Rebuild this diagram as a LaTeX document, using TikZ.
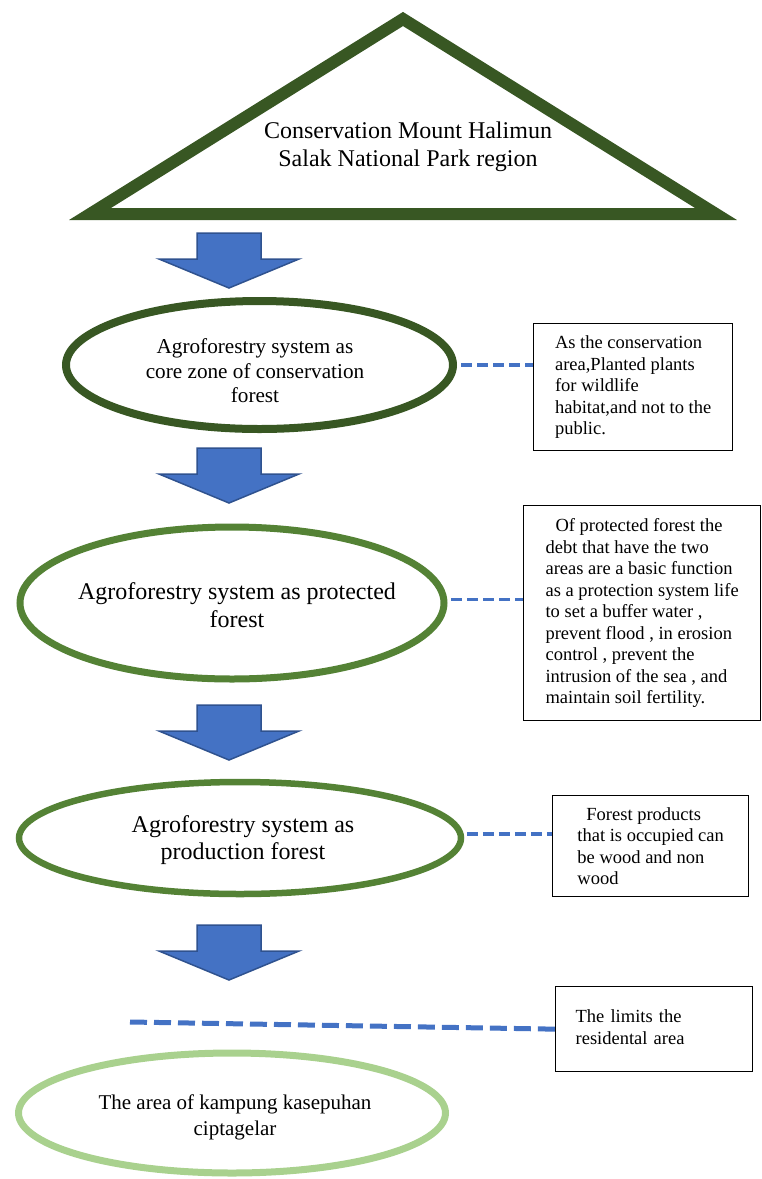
\documentclass[tikz,border=0pt]{standalone}
\usepackage{fontspec}
\setmainfont{Liberation Serif}
\usetikzlibrary{shapes.geometric}
\definecolor{forestdark}{HTML}{385723}
\definecolor{forestmid}{HTML}{548235}
\definecolor{forestlight}{HTML}{A9D18E}
\definecolor{flowblue}{HTML}{4472C4}
\definecolor{flowedge}{HTML}{2F528F}

\begin{document}
\begin{tikzpicture}[x=1pt, y=-1pt,
    zone/.style={ellipse, draw=#1, inner sep=0pt},
    zonetext/.style={align=center, font=\fontsize{24}{28}\selectfont},
    note/.style={draw, line width=1.3pt, align=left, inner xsep=20pt, inner ysep=0pt,
      anchor=north west, minimum width=#1, font=\fontsize{18.5}{21.5}\selectfont},
    link/.style={draw=flowblue, line width=3.5pt, dash pattern=on 11pt off 5pt},
    blockarrow/.style={fill=flowblue, draw=flowedge, line width=1.5pt, line join=miter}]

  \useasboundingbox (0,0) rectangle (762,1179);

  % park region
  \draw[forestdark, line width=12pt, line join=miter] (403,19) -- (716,214) -- (90,214) -- cycle;
  \node[zonetext] (park) at (408,147) {Conservation Mount Halimun\\Salak National Park region};

  % flow arrows
  \foreach \ytop in {233,448,705,925}
    \draw[blockarrow] (197,\ytop) -- ++(64,0) -- ++(0,26) -- ++(38,0) -- ++(-70,29) -- ++(-70,-29) -- ++(38,0) -- cycle;

  % zones
  \node[zone=forestdark, line width=8pt, minimum width=387pt, minimum height=128pt] (core) at (259.5,365) {};
  \node[zonetext, font=\fontsize{21.2}{24.5}\selectfont] (coretext) at (255,371)
    {Agroforestry system as\\core zone of conservation\\forest};

  \node[zone=forestmid, line width=7pt, minimum width=424pt, minimum height=152pt] (protect) at (232,603) {};
  \node[zonetext] (protecttext) at (237,605) {Agroforestry system as protected\\forest};

  \node[zone=forestmid, line width=6.5pt, minimum width=442pt, minimum height=112pt] (product) at (240,838) {};
  \node[zonetext, font=\fontsize{24}{27}\selectfont] (producttext) at (243,840)
    {Agroforestry system as\\production forest};

  \node[zone=forestlight, line width=7pt, minimum width=427pt, minimum height=120pt] (village) at (232,1113) {};
  \node[zonetext, font=\fontsize{21}{26}\selectfont] (villagetext) at (235,1117)
    {The area of kampung kasepuhan\\ciptagelar};

  % notes
  \node[note=199pt, minimum height=127pt] (notecore) at (533,323)
    {As the conservation\\area,Planted plants\\for wildlife\\habitat,and not to the\\public.};
  \node[note=237pt, minimum height=215pt] (noteprotect) at (523,505)
    {\hspace*{10pt}Of protected forest the\\debt that have the two\\areas are a basic function\\as a protection system life\\to set a buffer water ,\\prevent flood , in erosion\\control , prevent the\\intrusion of the sea , and\\maintain soil fertility.};
  \node[note=196pt, minimum height=101pt] (noteproduct) at (552,795)
    {\hspace*{9pt}Forest products\\that is occupied can\\be wood and non\\wood};
  \node[note=197pt, text width=157pt, inner ysep=12pt, text depth=26pt, minimum height=85pt] (notelimit) at (555,986)
    {The limits the\\residental area};

  % dashed links
  \draw[link, shorten <=4pt] (core.-0.6) -- (notecore.west |- core.-0.6);
  \draw[link, shorten <=4pt] (protect.1.4) -- (noteprotect.west |- protect.1.4);
  \draw[link, shorten <=3pt] (product.1) -- (noteproduct.west |- product.1);
  \coordinate (limitstart) at (130,1022);
  \draw[link, line width=5pt, dash pattern=on 17pt off 7pt] (limitstart) -- (notelimit.west);
\end{tikzpicture}
\end{document}
